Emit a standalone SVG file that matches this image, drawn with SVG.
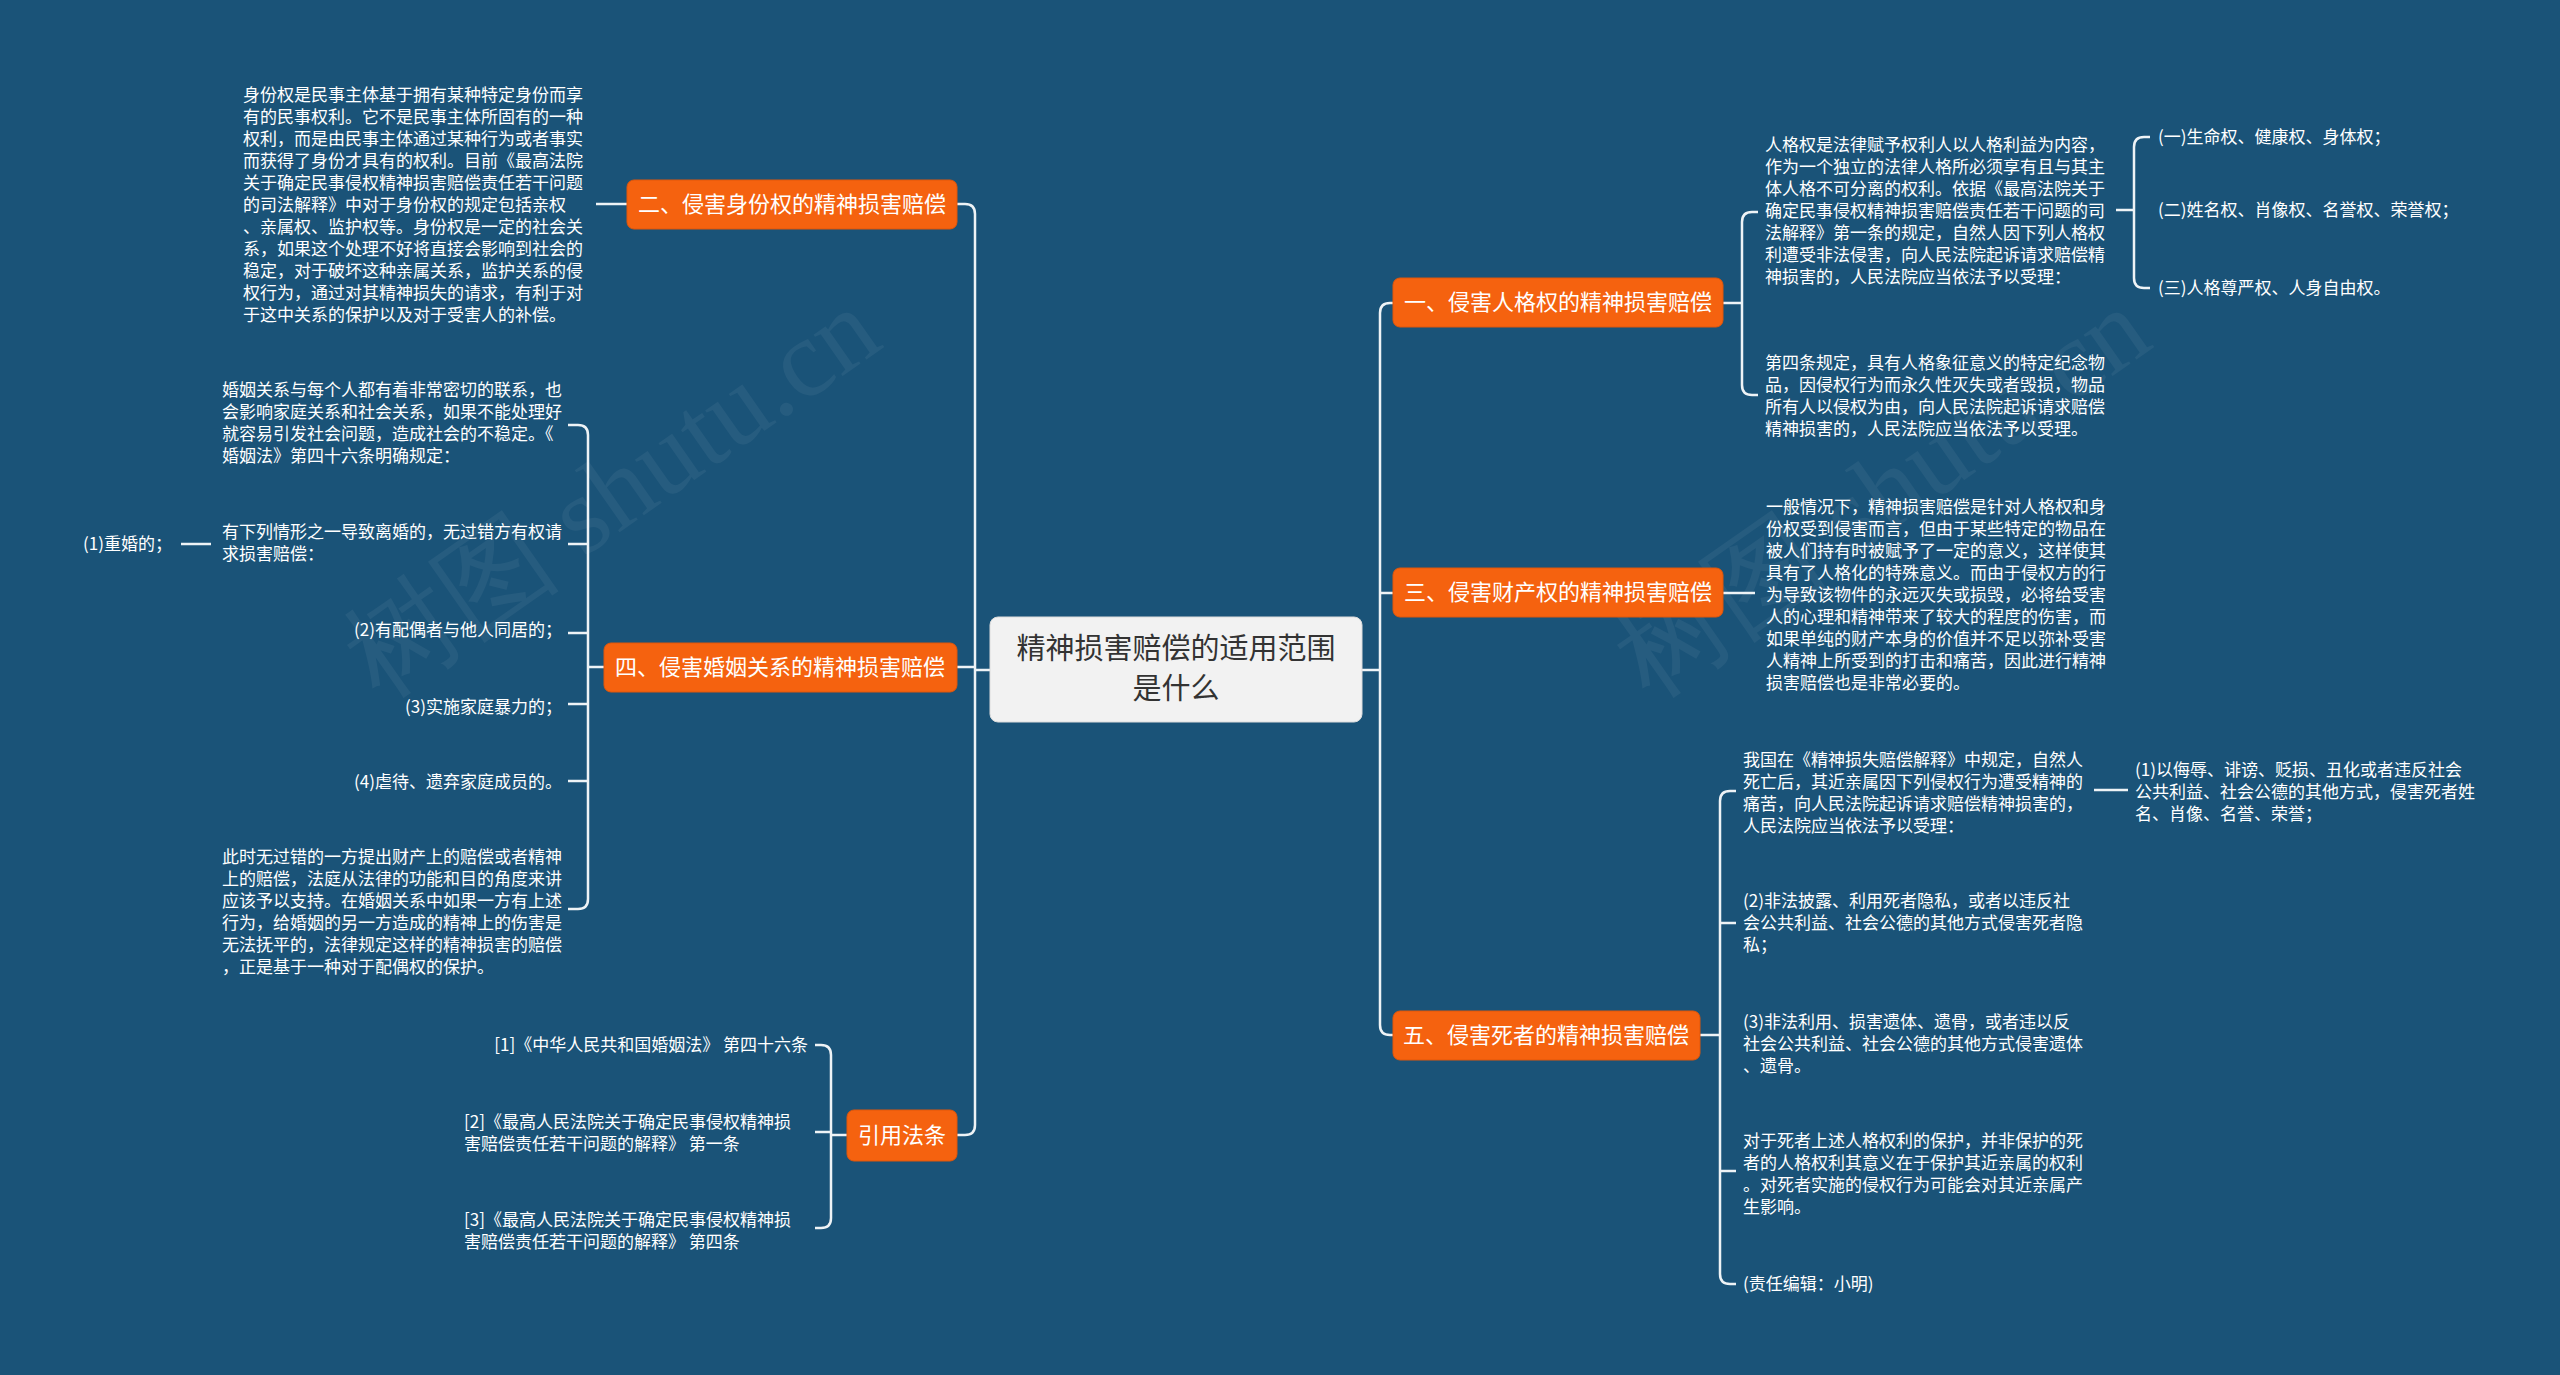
<svg xmlns="http://www.w3.org/2000/svg" width="2560" height="1375" viewBox="0 0 2560 1375">
<style>
.t{font-family:"Noto Sans CJK SC","Noto Sans",sans-serif;font-size:17px;fill:#ffffff}
.e{text-anchor:end}
.nt{font-family:"Noto Sans CJK SC","Noto Sans",sans-serif;font-size:22px;fill:#ffffff;text-anchor:middle}
.rt{font-family:"Noto Sans CJK SC","Noto Sans",sans-serif;font-size:29px;fill:#333333;text-anchor:middle}
.nb{fill:#f5620f;stroke:#e0560a;stroke-width:1}
.c{fill:none;stroke:#eef3f6;stroke-width:2.5}
.wm{font-family:"Liberation Serif",serif;font-size:110px;fill:#ffffff;opacity:0.05}
</style>
<rect width="2560" height="1375" fill="#1a5378"/>
<text class="wm" transform="translate(380,700) rotate(-35)">树图 shutu.cn</text>
<text class="wm" transform="translate(1650,700) rotate(-35)">树图 shutu.cn</text>
<g id="connectors">
<path class="c" d="M990,670 H975 M975,214 Q975,204 965,204 H957 M975,214 V1125 Q975,1135 965,1135 H957 M975,667 H957"/>
<path class="c" d="M1362,670 H1380 M1380,313 Q1380,303 1390,303 H1393 M1380,313 V1025 Q1380,1035 1390,1035 H1393 M1380,593 H1393"/>
<path class="c" d="M596,204 H627"/>
<path class="c" d="M604,667 H588 M588,435 Q588,425 578,425 H568 M588,435 V899 Q588,909 578,909 H568 M588,544 H568 M588,633 H568 M588,704 H568 M588,781 H568"/>
<path class="c" d="M181,544 H211"/>
<path class="c" d="M847,1135 H831 M831,1055 Q831,1045 821,1045 H815 M831,1055 V1218 Q831,1228 821,1228 H815 M831,1132 H815"/>
<path class="c" d="M1723,303 H1742 M1742,222 Q1742,212 1752,212 H1758 M1742,222 V385 Q1742,395 1752,395 H1758"/>
<path class="c" d="M2116,210 H2134 M2134,147 Q2134,137 2144,137 H2150 M2134,147 V278 Q2134,288 2144,288 H2150"/>
<path class="c" d="M1723,593 H1755"/>
<path class="c" d="M1700,1035 H1720 M1720,801 Q1720,791 1730,791 H1736 M1720,801 V1274 Q1720,1284 1730,1284 H1736 M1720,923 H1736 M1720,1171 H1736"/>
<path class="c" d="M2094,790 H2128"/>
</g>
<g id="root">
<rect x="990" y="617" width="372" height="105" rx="8" fill="#f2f2f2" stroke="#dcdcdc"/>
<text class="rt" x="1176" y="659">精神损害赔偿的适用范围</text>
<text class="rt" x="1176" y="699">是什么</text>
</g>
<g id="n2"><rect class="nb" x="627" y="180" width="330" height="49" rx="7"/><text class="nt" x="792" y="212">二、侵害身份权的精神损害赔偿</text></g>
<g id="n4"><rect class="nb" x="604" y="643" width="353" height="49" rx="7"/><text class="nt" x="780" y="675">四、侵害婚姻关系的精神损害赔偿</text></g>
<g id="ncite"><rect class="nb" x="847" y="1110" width="110" height="51" rx="7"/><text class="nt" x="902" y="1143">引用法条</text></g>
<g id="n1"><rect class="nb" x="1393" y="278" width="330" height="49" rx="7"/><text class="nt" x="1558" y="310">一、侵害人格权的精神损害赔偿</text></g>
<g id="n3"><rect class="nb" x="1393" y="568" width="330" height="49" rx="7"/><text class="nt" x="1558" y="600">三、侵害财产权的精神损害赔偿</text></g>
<g id="n5"><rect class="nb" x="1393" y="1011" width="307" height="49" rx="7"/><text class="nt" x="1546" y="1043">五、侵害死者的精神损害赔偿</text></g>
<g id="l2">
<text class="t" x="243" y="101">身份权是民事主体基于拥有某种特定身份而享</text>
<text class="t" x="243" y="123">有的民事权利。它不是民事主体所固有的一种</text>
<text class="t" x="243" y="145">权利，而是由民事主体通过某种行为或者事实</text>
<text class="t" x="243" y="167">而获得了身份才具有的权利。目前《最高法院</text>
<text class="t" x="243" y="189">关于确定民事侵权精神损害赔偿责任若干问题</text>
<text class="t" x="243" y="211">的司法解释》中对于身份权的规定包括亲权</text>
<text class="t" x="243" y="233">、亲属权、监护权等。身份权是一定的社会关</text>
<text class="t" x="243" y="255">系，如果这个处理不好将直接会影响到社会的</text>
<text class="t" x="243" y="277">稳定，对于破坏这种亲属关系，监护关系的侵</text>
<text class="t" x="243" y="299">权行为，通过对其精神损失的请求，有利于对</text>
<text class="t" x="243" y="321">于这中关系的保护以及对于受害人的补偿。</text>
</g>
<g id="l4a">
<text class="t" x="222" y="396">婚姻关系与每个人都有着非常密切的联系，也</text>
<text class="t" x="222" y="418">会影响家庭关系和社会关系，如果不能处理好</text>
<text class="t" x="222" y="440">就容易引发社会问题，造成社会的不稳定。《</text>
<text class="t" x="222" y="462">婚姻法》第四十六条明确规定：</text>
</g>
<g id="l4b">
<text class="t" x="222" y="538">有下列情形之一导致离婚的，无过错方有权请</text>
<text class="t" x="222" y="560">求损害赔偿：</text>
</g>
<g id="l4b1"><text class="t" x="83" y="550">(1)重婚的；</text></g>
<g id="l4c"><text class="t e" x="562" y="636">(2)有配偶者与他人同居的；</text></g>
<g id="l4d"><text class="t e" x="562" y="713">(3)实施家庭暴力的；</text></g>
<g id="l4e"><text class="t e" x="562" y="788">(4)虐待、遗弃家庭成员的。</text></g>
<g id="l4f">
<text class="t" x="222" y="863">此时无过错的一方提出财产上的赔偿或者精神</text>
<text class="t" x="222" y="885">上的赔偿，法庭从法律的功能和目的角度来讲</text>
<text class="t" x="222" y="907">应该予以支持。在婚姻关系中如果一方有上述</text>
<text class="t" x="222" y="929">行为，给婚姻的另一方造成的精神上的伤害是</text>
<text class="t" x="222" y="951">无法抚平的，法律规定这样的精神损害的赔偿</text>
<text class="t" x="222" y="973">，正是基于一种对于配偶权的保护。</text>
</g>
<g id="c1"><text class="t e" x="808" y="1051">[1]《中华人民共和国婚姻法》 第四十六条</text></g>
<g id="c2">
<text class="t" x="464" y="1128">[2]《最高人民法院关于确定民事侵权精神损</text>
<text class="t" x="464" y="1150">害赔偿责任若干问题的解释》 第一条</text>
</g>
<g id="c3">
<text class="t" x="464" y="1226">[3]《最高人民法院关于确定民事侵权精神损</text>
<text class="t" x="464" y="1248">害赔偿责任若干问题的解释》 第四条</text>
</g>
<g id="l1a">
<text class="t" x="1765" y="151">人格权是法律赋予权利人以人格利益为内容，</text>
<text class="t" x="1765" y="173">作为一个独立的法律人格所必须享有且与其主</text>
<text class="t" x="1765" y="195">体人格不可分离的权利。依据《最高法院关于</text>
<text class="t" x="1765" y="217">确定民事侵权精神损害赔偿责任若干问题的司</text>
<text class="t" x="1765" y="239">法解释》第一条的规定，自然人因下列人格权</text>
<text class="t" x="1765" y="261">利遭受非法侵害，向人民法院起诉请求赔偿精</text>
<text class="t" x="1765" y="283">神损害的，人民法院应当依法予以受理：</text>
</g>
<g id="l1a1"><text class="t" x="2158" y="143">(一)生命权、健康权、身体权；</text></g>
<g id="l1a2"><text class="t" x="2158" y="216">(二)姓名权、肖像权、名誉权、荣誉权；</text></g>
<g id="l1a3"><text class="t" x="2158" y="294">(三)人格尊严权、人身自由权。</text></g>
<g id="l1b">
<text class="t" x="1765" y="369">第四条规定，具有人格象征意义的特定纪念物</text>
<text class="t" x="1765" y="391">品，因侵权行为而永久性灭失或者毁损，物品</text>
<text class="t" x="1765" y="413">所有人以侵权为由，向人民法院起诉请求赔偿</text>
<text class="t" x="1765" y="435">精神损害的，人民法院应当依法予以受理。</text>
</g>
<g id="l3">
<text class="t" x="1766" y="513">一般情况下，精神损害赔偿是针对人格权和身</text>
<text class="t" x="1766" y="535">份权受到侵害而言，但由于某些特定的物品在</text>
<text class="t" x="1766" y="557">被人们持有时被赋予了一定的意义，这样使其</text>
<text class="t" x="1766" y="579">具有了人格化的特殊意义。而由于侵权方的行</text>
<text class="t" x="1766" y="601">为导致该物件的永远灭失或损毁，必将给受害</text>
<text class="t" x="1766" y="623">人的心理和精神带来了较大的程度的伤害，而</text>
<text class="t" x="1766" y="645">如果单纯的财产本身的价值并不足以弥补受害</text>
<text class="t" x="1766" y="667">人精神上所受到的打击和痛苦，因此进行精神</text>
<text class="t" x="1766" y="689">损害赔偿也是非常必要的。</text>
</g>
<g id="l5a">
<text class="t" x="1743" y="766">我国在《精神损失赔偿解释》中规定，自然人</text>
<text class="t" x="1743" y="788">死亡后，其近亲属因下列侵权行为遭受精神的</text>
<text class="t" x="1743" y="810">痛苦，向人民法院起诉请求赔偿精神损害的，</text>
<text class="t" x="1743" y="832">人民法院应当依法予以受理：</text>
</g>
<g id="l5a1">
<text class="t" x="2135" y="776">(1)以侮辱、诽谤、贬损、丑化或者违反社会</text>
<text class="t" x="2135" y="798">公共利益、社会公德的其他方式，侵害死者姓</text>
<text class="t" x="2135" y="820">名、肖像、名誉、荣誉；</text>
</g>
<g id="l5b">
<text class="t" x="1743" y="907">(2)非法披露、利用死者隐私，或者以违反社</text>
<text class="t" x="1743" y="929">会公共利益、社会公德的其他方式侵害死者隐</text>
<text class="t" x="1743" y="951">私；</text>
</g>
<g id="l5c">
<text class="t" x="1743" y="1028">(3)非法利用、损害遗体、遗骨，或者违以反</text>
<text class="t" x="1743" y="1050">社会公共利益、社会公德的其他方式侵害遗体</text>
<text class="t" x="1743" y="1072">、遗骨。</text>
</g>
<g id="l5d">
<text class="t" x="1743" y="1147">对于死者上述人格权利的保护，并非保护的死</text>
<text class="t" x="1743" y="1169">者的人格权利其意义在于保护其近亲属的权利</text>
<text class="t" x="1743" y="1191">。对死者实施的侵权行为可能会对其近亲属产</text>
<text class="t" x="1743" y="1213">生影响。</text>
</g>
<g id="l5e"><text class="t" x="1743" y="1290">(责任编辑：小明)</text></g>
</svg>
